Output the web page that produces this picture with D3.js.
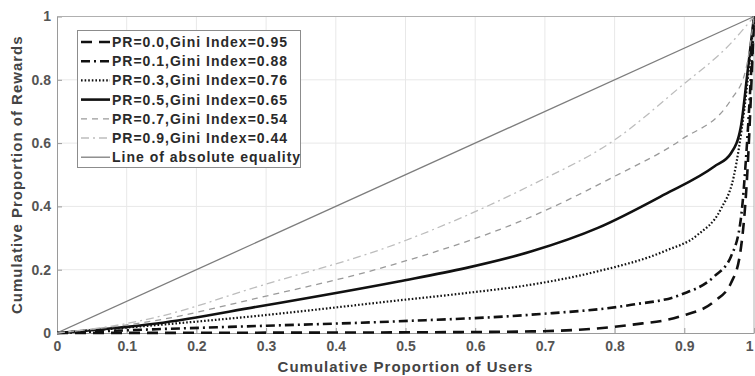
<!DOCTYPE html>
<html>
<head>
<meta charset="utf-8">
<script src="https://cdn.jsdelivr.net/npm/d3@7/dist/d3.min.js"></script>
<style>
  body { margin: 0; background: #fff; }
  svg { display: block; font-family: "Liberation Sans", Arial, sans-serif; font-weight: bold; }
</style>
</head>
<body>
<svg id="chart" width="755" height="376"></svg>
<script>
// Lorenz curves, [userShare, rewardShare]
const pr00 = [[0,0],[0.287,0.001],[0.49,0.002],[0.681,0.005],[0.824,0.026],[0.895,0.053],[0.943,0.1],[0.967,0.158],[0.98,0.25],[0.99,0.49],[1,1]];
const pr01 = [[0,0],[0.143,0.012],[0.287,0.022],[0.49,0.037],[0.681,0.058],[0.824,0.089],[0.895,0.121],[0.943,0.179],[0.967,0.242],[0.981,0.358],[0.99,0.6],[1,1]];
const pr03 = [[0,0],[0.143,0.025],[0.287,0.054],[0.49,0.103],[0.586,0.126],[0.681,0.153],[0.776,0.195],[0.871,0.258],[0.919,0.31],[0.952,0.39],[0.971,0.495],[0.986,0.705],[1,1]];
const pr05 = [[0,0],[0.143,0.03],[0.287,0.083],[0.49,0.163],[0.586,0.205],[0.681,0.258],[0.776,0.332],[0.871,0.437],[0.943,0.526],[0.967,0.568],[0.981,0.65],[0.99,0.81],[1,1]];
const pr07 = [[0,0],[0.143,0.04],[0.287,0.11],[0.49,0.221],[0.681,0.368],[0.8,0.495],[0.895,0.61],[0.967,0.737],[0.988,0.83],[1,1]];
const pr09 = [[0,0],[0.1,0.03],[0.143,0.05],[0.287,0.146],[0.49,0.284],[0.681,0.468],[0.8,0.61],[0.895,0.779],[0.967,0.916],[1,1]];
const equality = [[0,0],[1,1]];

const seriesData = [pr00, pr01, pr03, pr05, pr07, pr09, equality];
const seriesNames = [
  'PR=0.0,Gini Index=0.95',
  'PR=0.1,Gini Index=0.88',
  'PR=0.3,Gini Index=0.76',
  'PR=0.5,Gini Index=0.65',
  'PR=0.7,Gini Index=0.54',
  'PR=0.9,Gini Index=0.44',
  'Line of absolute equality'
];
const xTicks = [0, 0.1, 0.2, 0.3, 0.4, 0.5, 0.6, 0.7, 0.8, 0.9, 1];
const yTicks = [0, 0.2, 0.4, 0.6, 0.8, 1];

// line styles
const styles = [
  { stroke: '#111', width: 2.6, dash: '11,7' },
  { stroke: '#111', width: 2.6, dash: '9,4,2,4' },
  { stroke: '#111', width: 2.2, dash: '1.6,2' },
  { stroke: '#111', width: 2.6, dash: null },
  { stroke: '#9a9a9a', width: 1.3, dash: '6,5' },
  { stroke: '#bdbdbd', width: 1.3, dash: '8,4,2,4' },
  { stroke: '#7d7d7d', width: 1.3, dash: null }
];

const margin = { left: 57, top: 16.5, right: 1, bottom: 43 };
const W = 755, H = 376;
const svg = d3.select('#chart');

const x = d3.scaleLinear().domain([0, 1]).range([margin.left, W - margin.right]);
const y = d3.scaleLinear().domain([0, 1]).range([H - margin.bottom, margin.top]);

svg.append('defs').append('clipPath').attr('id', 'plotclip')
  .append('rect')
  .attr('x', x(0)).attr('y', y(1) - 2)
  .attr('width', x(1) - x(0) + 2).attr('height', y(0) - y(1) + 4);

// grid
const grid = svg.append('g').attr('id', 'grid');
grid.selectAll('line.vg')
  .data(xTicks.slice(1, -1))
  .enter().append('line')
  .attr('class', 'vg')
  .attr('x1', d => x(d)).attr('x2', d => x(d))
  .attr('y1', y(0)).attr('y2', y(1))
  .attr('stroke', '#e8e8e8').attr('stroke-width', 1);
grid.selectAll('line.hg')
  .data(yTicks.slice(1, -1))
  .enter().append('line')
  .attr('class', 'hg')
  .attr('y1', d => y(d)).attr('y2', d => y(d))
  .attr('x1', x(0)).attr('x2', x(1))
  .attr('stroke', '#e8e8e8').attr('stroke-width', 1);

// axes (ticks inside, MATLAB style)
const xAxis = svg.append('g')
  .attr('transform', `translate(0,${y(0)})`)
  .call(d3.axisBottom(x).tickValues(xTicks).tickSizeInner(-5).tickSizeOuter(0).tickPadding(8)
    .tickFormat(d => d3.format('~g')(d)));
const yAxis = svg.append('g')
  .attr('transform', `translate(${x(0)},0)`)
  .call(d3.axisLeft(y).tickValues(yTicks).tickSizeInner(-5).tickSizeOuter(0).tickPadding(6)
    .tickFormat(d => d3.format('~g')(d)));
[xAxis, yAxis].forEach(a => {
  a.select('.domain').attr('stroke', '#9a9a9a');
  a.selectAll('.tick line').attr('stroke', '#9a9a9a');
  a.selectAll('.tick text')
    .attr('fill', '#555')
    .style('font-size', '14px')
    .style('font-weight', 'bold')
    .style('font-family', '"Liberation Sans", Arial, sans-serif');
});
// last x label sits against the right edge
xAxis.selectAll('.tick text').filter(d => d === 1)
  .attr('text-anchor', 'end').attr('dx', '-1');

// top and right border
svg.append('line')
  .attr('x1', x(0)).attr('x2', x(1)).attr('y1', y(1)).attr('y2', y(1))
  .attr('stroke', '#b0b0b0');
svg.append('line')
  .attr('x1', x(1)).attr('x2', x(1)).attr('y1', y(0)).attr('y2', y(1))
  .attr('stroke', '#b0b0b0');

// curves
const line = d3.line()
  .x(d => x(d[0]))
  .y(d => y(d[1]))
  .curve(d3.curveMonotoneX);

const curves = svg.append('g').attr('clip-path', 'url(#plotclip)');
curves.selectAll('path')
  .data(seriesData)
  .enter().append('path')
  .attr('d', d => line(d))
  .attr('fill', 'none')
  .attr('stroke', (d, i) => styles[i].stroke)
  .attr('stroke-width', (d, i) => styles[i].width)
  .attr('stroke-dasharray', (d, i) => styles[i].dash);

// axis titles
svg.append('text')
  .attr('x', (x(0) + x(1)) / 2).attr('y', 372)
  .attr('text-anchor', 'middle')
  .attr('fill', '#444')
  .style('font-size', '15px')
  .style('letter-spacing', '1px')
  .text('Cumulative Proportion of Users');
svg.append('text')
  .attr('transform', `translate(22,${(y(0) + y(1)) / 2}) rotate(-90)`)
  .attr('text-anchor', 'middle')
  .attr('fill', '#444')
  .style('font-size', '15px')
  .style('letter-spacing', '1px')
  .text('Cumulative Proportion of Rewards');

// legend
const legend = svg.append('g').attr('id', 'legend');
legend.append('rect')
  .attr('x', 77.5).attr('y', 30.5)
  .attr('width', 223).attr('height', 137)
  .attr('fill', '#fff').attr('stroke', '#8c8c8c');

const rows = legend.selectAll('g.row')
  .data(seriesNames)
  .enter().append('g')
  .attr('class', 'row')
  .attr('transform', (d, i) => `translate(0,${42 + i * 19.2})`);
rows.append('line')
  .attr('x1', 81).attr('x2', 110)
  .attr('stroke', (d, i) => styles[i].stroke)
  .attr('stroke-width', (d, i) => styles[i].width)
  .attr('stroke-dasharray', (d, i) => styles[i].dash);
rows.append('text')
  .attr('x', 112).attr('y', 5)
  .attr('fill', '#2a2a2a')
  .style('font-size', '14px')
  .style('letter-spacing', '1px')
  .text(d => d);
</script>
</body>
</html>
